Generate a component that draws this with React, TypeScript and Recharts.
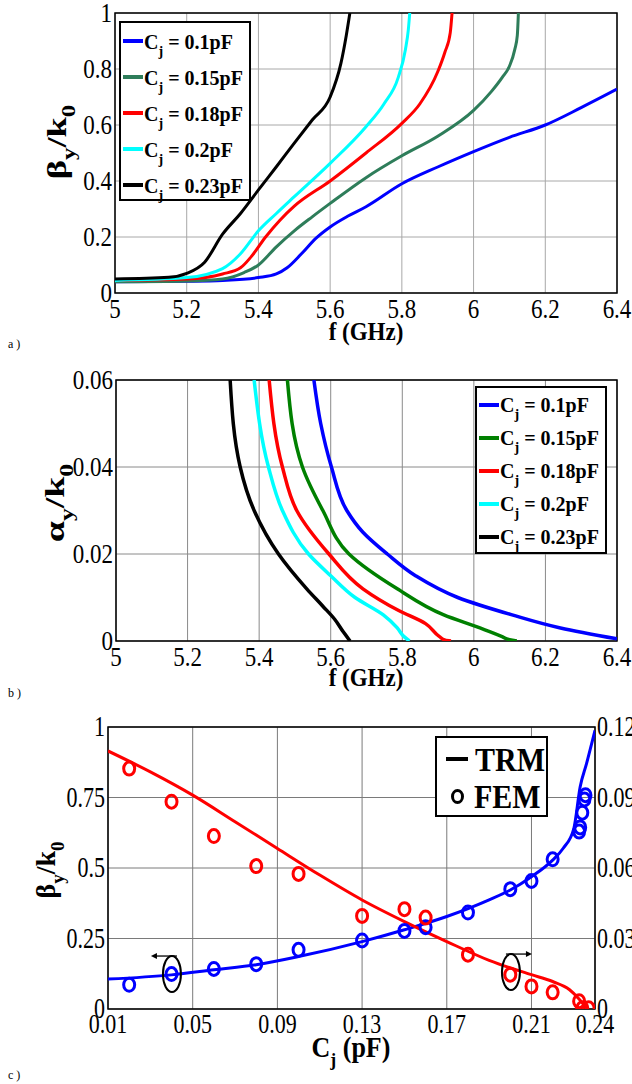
import React from 'react';
import {
  LineChart,
  ComposedChart,
  Line,
  Scatter,
  XAxis,
  YAxis,
  CartesianGrid,
  ReferenceArea,
  Legend,
} from 'recharts';

const SER = "'Liberation Serif', 'Times New Roman', Times, serif";

type Pt = [number, number];

// ---------- Panel a : beta_y/k0 vs f (GHz) ----------
const freqTicks = [5, 5.2, 5.4, 5.6, 5.8, 6, 6.2, 6.4];
const betaTicks = [0, 0.2, 0.4, 0.6, 0.8, 1];
const capLabels = ['0.1', '0.15', '0.18', '0.2', '0.23'];
const colorsA = ['#0000ff', '#2e7d5a', '#ff0000', '#00ffff', '#000000'];
const colorsB = ['#0000ff', '#008000', '#ff0000', '#00ffff', '#000000'];

const betaCj010: Pt[] = [
  [5, 0.04], [5.2, 0.042], [5.3, 0.045], [5.4, 0.055], [5.45, 0.068], [5.48, 0.09],
  [5.52, 0.14], [5.56, 0.195], [5.6, 0.236], [5.65, 0.275], [5.7, 0.308], [5.8, 0.39],
  [5.9, 0.45], [6.0, 0.505], [6.1, 0.556], [6.2, 0.6], [6.3, 0.662], [6.4, 0.728],
];
const betaCj015: Pt[] = [
  [5, 0.04], [5.2, 0.043], [5.3, 0.05], [5.36, 0.073], [5.4, 0.1], [5.45, 0.165],
  [5.5, 0.222], [5.55, 0.272], [5.6, 0.32], [5.7, 0.412], [5.8, 0.49], [5.9, 0.56],
  [6.0, 0.652], [6.05, 0.72], [6.08, 0.77], [6.1, 0.81], [6.115, 0.87], [6.122, 0.92], [6.125, 1.0],
];
const betaCj018: Pt[] = [
  [5, 0.045], [5.2, 0.05], [5.3, 0.068], [5.35, 0.09], [5.38, 0.13], [5.42, 0.2],
  [5.46, 0.26], [5.5, 0.31], [5.6, 0.4], [5.7, 0.5], [5.8, 0.606], [5.85, 0.675],
  [5.9, 0.79], [5.92, 0.86], [5.935, 0.93], [5.94, 1.0],
];
const betaCj020: Pt[] = [
  [5, 0.045], [5.2, 0.055], [5.3, 0.087], [5.35, 0.14], [5.4, 0.222], [5.45, 0.284],
  [5.5, 0.344], [5.6, 0.463], [5.7, 0.594], [5.75, 0.675], [5.79, 0.77], [5.81, 0.87],
  [5.818, 0.94], [5.822, 1.0],
];
const betaCj023: Pt[] = [
  [5, 0.05], [5.15, 0.056], [5.2, 0.07], [5.25, 0.11], [5.3, 0.21], [5.35, 0.284],
  [5.4, 0.368], [5.45, 0.451], [5.5, 0.535], [5.55, 0.618], [5.6, 0.7], [5.63, 0.82],
  [5.645, 0.92], [5.655, 1.0],
];

// ---------- Panel b : alpha_y/k0 vs f (GHz) ----------
const alphaTicks = [0, 0.02, 0.04, 0.06];
const alphaCj010: Pt[] = [
  [5.553, 0.06], [5.572, 0.05], [5.602, 0.04], [5.645, 0.03], [5.69, 0.025], [5.758, 0.02],
  [5.837, 0.015], [5.955, 0.01], [6.107, 0.006], [6.242, 0.003], [6.4, 0.0005],
];
const alphaCj015: Pt[] = [
  [5.479, 0.06], [5.521, 0.04], [5.578, 0.03], [5.651, 0.02], [5.786, 0.012], [5.916, 0.006],
  [6.017, 0.003], [6.079, 0.001], [6.1, 0.0003], [6.12, 0],
];
const alphaCj018: Pt[] = [
  [5.428, 0.06], [5.465, 0.04], [5.505, 0.03], [5.595, 0.02], [5.69, 0.012], [5.79, 0.007],
  [5.865, 0.004], [5.904, 0.001], [5.92, 0.0002], [5.936, 0],
];
const alphaCj020: Pt[] = [
  [5.386, 0.06], [5.426, 0.04], [5.465, 0.03], [5.538, 0.02], [5.6, 0.015], [5.668, 0.01],
  [5.747, 0.006], [5.786, 0.003], [5.805, 0.001], [5.82, 0],
];
const alphaCj023: Pt[] = [
  [5.319, 0.06], [5.347, 0.04], [5.386, 0.03], [5.454, 0.02], [5.533, 0.012], [5.578, 0.008],
  [5.611, 0.005], [5.636, 0.002], [5.654, 0],
];

// ---------- Panel c : vs Cj (pF) ----------
const cjTicks = [0.01, 0.05, 0.09, 0.13, 0.17, 0.21, 0.24];
const betaCTicks = [0, 0.25, 0.5, 0.75, 1];
const alphaCTicks = [0, 0.03, 0.06, 0.09, 0.12];

const betaTRM: Pt[] = [
  [0.01, 0.106], [0.04, 0.121], [0.06, 0.139], [0.08, 0.157], [0.1, 0.186], [0.13, 0.239],
  [0.15, 0.281], [0.17, 0.328], [0.19, 0.387], [0.2, 0.422], [0.21, 0.469], [0.22, 0.528],
  [0.225, 0.57], [0.23, 0.64], [0.233, 0.788], [0.236, 0.87], [0.24, 0.988],
];
const betaFEM: Pt[] = [
  [0.02, 0.086], [0.04, 0.124], [0.06, 0.142], [0.08, 0.159], [0.1, 0.21], [0.13, 0.243],
  [0.15, 0.277], [0.16, 0.29], [0.18, 0.342], [0.2, 0.425], [0.21, 0.454], [0.22, 0.531],
  [0.2325, 0.629], [0.233, 0.644], [0.234, 0.696], [0.235, 0.743], [0.2355, 0.758],
];
const alphaTRM: Pt[] = [
  [0.01, 0.1098], [0.03, 0.1009], [0.05, 0.091], [0.07, 0.0797], [0.09, 0.0683], [0.11, 0.057],
  [0.13, 0.0464], [0.15, 0.0372], [0.17, 0.0287], [0.19, 0.0207], [0.21, 0.0146], [0.22, 0.0117],
  [0.228, 0.0082], [0.232, 0.0047], [0.235, 0.0014], [0.236, 0],
];
const alphaFEM: Pt[] = [
  [0.02, 0.1023], [0.04, 0.0882], [0.06, 0.0736], [0.08, 0.0608], [0.1, 0.0575], [0.13, 0.0396],
  [0.15, 0.0425], [0.16, 0.0389], [0.18, 0.0231], [0.2, 0.0146], [0.21, 0.0096], [0.22, 0.0071],
  [0.2325, 0.0033], [0.234, 0.0003], [0.237, 0.0003],
];
// ellipse annotations (left-axis units) and arrow direction
const annotX = [0.0402, 0.2003];
const annotY = [0.124, 0.131];
const annotDir = [-1, 1];

const toXY = (a: Pt[]) => a.map(([x, y]) => ({ x, y }));

const seriesA = [betaCj010, betaCj015, betaCj018, betaCj020, betaCj023];
const seriesB = [alphaCj010, alphaCj015, alphaCj018, alphaCj020, alphaCj023];

// ---------- helpers ----------
function SerifTick(props: any) {
  const { x, y, payload, side, fs, sy } = props;
  let anchor = 'middle';
  let ty = fs * 0.7;
  if (side === 'left') {
    anchor = 'end';
    ty = fs * 0.33;
  } else if (side === 'right') {
    anchor = 'start';
    ty = fs * 0.33;
  }
  return (
    <g transform={`translate(${x},${y}) scale(1,${sy})`}>
      <text x={0} y={ty} textAnchor={anchor} fontFamily={SER} fontSize={fs} fill="#000">
        {String(payload.value)}
      </text>
    </g>
  );
}

function TitleY({ px, py, sym, fs, sx }: any) {
  const sub = fs * 0.68;
  const d = fs * 0.32;
  return (
    <text
      transform={`translate(${px},${py}) rotate(-90) scale(${sx},1)`}
      x={0}
      y={fs * 0.3}
      textAnchor="middle"
      fontFamily={SER}
      fontWeight="bold"
      fontSize={fs}
      fill="#000"
    >
      <tspan>{sym}</tspan>
      <tspan fontSize={sub} dy={d}>y</tspan>
      <tspan dy={-d}>/k</tspan>
      <tspan fontSize={sub} dy={d}>0</tspan>
    </text>
  );
}

function TitleX({ px, py, fs, text }: any) {
  return (
    <g transform={`translate(${px},${py}) scale(1,1.1)`}>
      <text x={0} y={0} textAnchor="middle" fontFamily={SER} fontWeight="bold" fontSize={fs} fill="#000">
        {text}
      </text>
    </g>
  );
}

function TitleCj({ px, py, fs }: any) {
  const d = fs * 0.3;
  return (
    <g transform={`translate(${px},${py}) scale(1,1.1)`}>
      <text x={0} y={0} textAnchor="middle" fontFamily={SER} fontWeight="bold" fontSize={fs} fill="#000">
        <tspan>C</tspan>
        <tspan fontSize={fs * 0.68} dy={d}>j</tspan>
        <tspan dy={-d}> (pF)</tspan>
      </text>
    </g>
  );
}

function CapLegend(props: any) {
  const { payload, rowH, padTop } = props;
  return (
    <div
      style={{
        border: '2px solid #000',
        background: '#fff',
        boxSizing: 'border-box',
        width: '100%',
        height: '100%',
        paddingTop: padTop,
      }}
    >
      {(payload || []).map((e: any, i: number) => (
        <div key={i} style={{ display: 'flex', alignItems: 'center', height: rowH }}>
          <span
            style={{ display: 'inline-block', width: 20, height: 4, background: e.color, marginLeft: 2, marginRight: 1 }}
          />
          <span
            style={{
              fontFamily: SER,
              fontWeight: 'bold',
              fontSize: 20,
              whiteSpace: 'nowrap',
              lineHeight: '20px',
              position: 'relative',
              top: 2,
            }}
          >
            C
            <span style={{ fontSize: 14, position: 'relative', top: 7 }}>j</span>
            {' = ' + e.value + 'pF'}
          </span>
        </div>
      ))}
    </div>
  );
}

function MethodLegend() {
  return (
    <div
      style={{
        border: '2px solid #000',
        background: '#fff',
        boxSizing: 'border-box',
        width: '100%',
        height: '100%',
      }}
    >
      <div style={{ display: 'flex', alignItems: 'center', height: 38, marginTop: 2 }}>
        <span style={{ display: 'inline-block', width: 22, height: 4, background: '#000', marginLeft: 9, marginRight: 7 }} />
        <span
          style={{
            fontFamily: SER,
            fontWeight: 'bold',
            fontSize: 30,
            lineHeight: '30px',
            display: 'inline-block',
            transform: 'scaleY(1.15)',
          }}
        >
          TRM
        </span>
      </div>
      <div style={{ display: 'flex', alignItems: 'center', height: 36 }}>
        <span
          style={{
            display: 'inline-block',
            width: 7,
            height: 9,
            border: '3px solid #000',
            borderRadius: '50%',
            marginLeft: 14,
            marginRight: 10,
          }}
        />
        <span
          style={{
            fontFamily: SER,
            fontWeight: 'bold',
            fontSize: 30,
            lineHeight: '30px',
            display: 'inline-block',
            transform: 'scaleY(1.15)',
          }}
        >
          FEM
        </span>
      </div>
    </div>
  );
}

function RingShape(props: any) {
  const { cx, cy, ring } = props;
  if (cx == null || cy == null) return <g />;
  return <ellipse cx={cx} cy={cy} rx={5.5} ry={6.5} fill="none" stroke={ring} strokeWidth={3} />;
}

function EllipseShape(props: any) {
  const { cx, cy, payload } = props;
  if (cx == null || cy == null) return <g />;
  const dir = payload && payload.dir ? payload.dir : 1;
  const ay = cy - 18;
  const x0 = cx - 5 * dir;
  const x1 = cx + 21 * dir;
  return (
    <g>
      <ellipse cx={cx} cy={cy} rx={9} ry={18} fill="none" stroke="#000" strokeWidth={2} />
      <line x1={x0} y1={ay} x2={x1 - 4 * dir} y2={ay} stroke="#000" strokeWidth={1.3} />
      <path d={`M${x1},${ay} L${x1 - 6 * dir},${ay - 3} L${x1 - 6 * dir},${ay + 3} Z`} fill="#000" />
    </g>
  );
}

function PanelA() {
  return (
    <LineChart width={632} height={360} margin={{ top: 13, right: 15, bottom: 17, left: 0 }}>
      <CartesianGrid stroke="#a8a8a8" strokeWidth={1} />
      <XAxis
        type="number"
        dataKey="x"
        domain={[5, 6.4]}
        ticks={freqTicks}
        interval={0}
        height={50}
        tickSize={0}
        tickMargin={6}
        axisLine={false}
        tickLine={false}
        allowDataOverflow
        tick={(p: any) => <SerifTick {...p} side="bottom" fs={23} sy={1.15} />}
        label={<TitleX px={366} py={340} fs={23} text="f (GHz)" />}
      />
      <YAxis
        type="number"
        dataKey="y"
        domain={[0, 1]}
        ticks={betaTicks}
        interval={0}
        width={115}
        tickSize={0}
        tickMargin={3}
        axisLine={false}
        tickLine={false}
        allowDataOverflow
        tick={(p: any) => <SerifTick {...p} side="left" fs={23} sy={1.2} />}
        label={<TitleY px={58} py={142} sym="β" fs={28} sx={1.3} />}
      />
      <ReferenceArea x1={5} x2={6.4} y1={0} y2={1} fill="none" stroke="#000" strokeWidth={1.5} ifOverflow="visible" />
      {seriesA.map((s, i) => (
        <Line
          key={i}
          data={toXY(s)}
          dataKey="y"
          name={capLabels[i]}
          type="monotone"
          stroke={colorsA[i]}
          strokeWidth={3}
          dot={false}
          activeDot={false}
          isAnimationActive={false}
        />
      ))}
      <Legend
        layout="vertical"
        align="center"
        verticalAlign="middle"
        wrapperStyle={{ left: 119, top: 21, width: 132, height: 180 }}
        content={(p: any) => <CapLegend {...p} rowH={36} padTop={0} />}
      />
    </LineChart>
  );
}

function PanelB() {
  return (
    <LineChart width={632} height={345} margin={{ top: 20, right: 15, bottom: 14, left: 0 }}>
      <CartesianGrid stroke="#8a8a8a" strokeWidth={1} />
      <XAxis
        type="number"
        dataKey="x"
        domain={[5, 6.4]}
        ticks={freqTicks}
        interval={0}
        height={50}
        tickSize={0}
        tickMargin={6}
        axisLine={false}
        tickLine={false}
        allowDataOverflow
        tick={(p: any) => <SerifTick {...p} side="bottom" fs={23} sy={1.15} />}
        label={<TitleX px={366} py={326} fs={23} text="f (GHz)" />}
      />
      <YAxis
        type="number"
        dataKey="y"
        domain={[0, 0.06]}
        ticks={alphaTicks}
        interval={0}
        width={116}
        tickSize={0}
        tickMargin={3}
        axisLine={false}
        tickLine={false}
        allowDataOverflow
        tick={(p: any) => <SerifTick {...p} side="left" fs={23} sy={1.2} />}
        label={<TitleY px={56} py={143} sym="α" fs={28} sx={1.35} />}
      />
      <ReferenceArea x1={5} x2={6.4} y1={0} y2={0.06} fill="none" stroke="#000" strokeWidth={1.5} ifOverflow="visible" />
      {seriesB.map((s, i) => (
        <Line
          key={i}
          data={toXY(s)}
          dataKey="y"
          name={capLabels[i]}
          type="monotoneY"
          stroke={colorsB[i]}
          strokeWidth={3.5}
          dot={false}
          activeDot={false}
          isAnimationActive={false}
        />
      ))}
      <Legend
        layout="vertical"
        align="center"
        verticalAlign="middle"
        wrapperStyle={{ left: 475, top: 26, width: 132, height: 168 }}
        content={(p: any) => <CapLegend {...p} rowH={33} padTop={0} />}
      />
    </LineChart>
  );
}

function PanelC() {
  const annot = annotX.map((x, i) => ({ x, y: annotY[i], dir: annotDir[i] }));
  return (
    <ComposedChart width={632} height={379} margin={{ top: 22, right: 0, bottom: 15, left: 0 }}>
      <CartesianGrid stroke="#7a7a7a" strokeWidth={1} yAxisId="L" />
      <XAxis
        type="number"
        dataKey="x"
        domain={[0.01, 0.24]}
        ticks={cjTicks}
        interval={0}
        height={60}
        tickSize={0}
        tickMargin={6}
        axisLine={false}
        tickLine={false}
        allowDataOverflow
        tick={(p: any) => <SerifTick {...p} side="bottom" fs={22} sy={1.2} />}
        label={<TitleCj px={351} py={352} fs={26} />}
      />
      <YAxis
        yAxisId="L"
        type="number"
        dataKey="y"
        domain={[0, 1]}
        ticks={betaCTicks}
        interval={0}
        width={108}
        tickSize={0}
        tickMargin={3}
        axisLine={false}
        tickLine={false}
        allowDataOverflow
        tick={(p: any) => <SerifTick {...p} side="left" fs={22} sy={1.3} />}
        label={<TitleY px={47} py={165} sym="β" fs={28} sx={1.0} />}
      />
      <YAxis
        yAxisId="R"
        orientation="right"
        type="number"
        dataKey="y"
        domain={[0, 0.12]}
        ticks={alphaCTicks}
        interval={0}
        width={37}
        tickSize={0}
        tickMargin={2}
        axisLine={false}
        tickLine={false}
        allowDataOverflow
        tick={(p: any) => <SerifTick {...p} side="right" fs={22} sy={1.3} />}
      />
      <ReferenceArea
        yAxisId="L"
        x1={0.01}
        x2={0.24}
        y1={0}
        y2={1}
        fill="none"
        stroke="#000"
        strokeWidth={1.5}
        ifOverflow="visible"
      />
      <Line
        yAxisId="L"
        data={toXY(betaTRM)}
        dataKey="y"
        name="beta TRM"
        type="monotone"
        stroke="#0000ff"
        strokeWidth={3}
        dot={false}
        activeDot={false}
        isAnimationActive={false}
      />
      <Line
        yAxisId="R"
        data={toXY(alphaTRM)}
        dataKey="y"
        name="alpha TRM"
        type="monotone"
        stroke="#ff0000"
        strokeWidth={3}
        dot={false}
        activeDot={false}
        isAnimationActive={false}
      />
      <Scatter
        yAxisId="L"
        data={toXY(betaFEM)}
        dataKey="y"
        name="beta FEM"
        isAnimationActive={false}
        shape={(p: any) => <RingShape {...p} ring="#0000ff" />}
      />
      <Scatter
        yAxisId="R"
        data={toXY(alphaFEM)}
        dataKey="y"
        name="alpha FEM"
        isAnimationActive={false}
        shape={(p: any) => <RingShape {...p} ring="#ff0000" />}
      />
      <Scatter
        yAxisId="L"
        data={annot}
        dataKey="y"
        name="annotation"
        isAnimationActive={false}
        shape={(p: any) => <EllipseShape {...p} />}
      />
      <Legend
        layout="vertical"
        align="center"
        verticalAlign="middle"
        wrapperStyle={{ left: 435, top: 31, width: 113, height: 81 }}
        content={() => <MethodLegend />}
      />
    </ComposedChart>
  );
}

const panelLabel = (text: string, top: number) => (
  <div
    style={{
      position: 'absolute',
      left: 8,
      top,
      fontFamily: SER,
      fontSize: 12,
      lineHeight: '12px',
      color: '#000',
    }}
  >
    {text}
  </div>
);

export default function App() {
  return (
    <div style={{ position: 'absolute', left: 0, top: 0, width: 632, height: 1084, background: '#fff', overflow: 'hidden' }}>
      <div style={{ position: 'absolute', left: 0, top: 0 }}>
        <PanelA />
      </div>
      <div style={{ position: 'absolute', left: 0, top: 360 }}>
        <PanelB />
      </div>
      <div style={{ position: 'absolute', left: 0, top: 705 }}>
        <PanelC />
      </div>
      {panelLabel('a )', 338)}
      {panelLabel('b )', 687)}
      {panelLabel('c )', 1069)}
    </div>
  );
}
